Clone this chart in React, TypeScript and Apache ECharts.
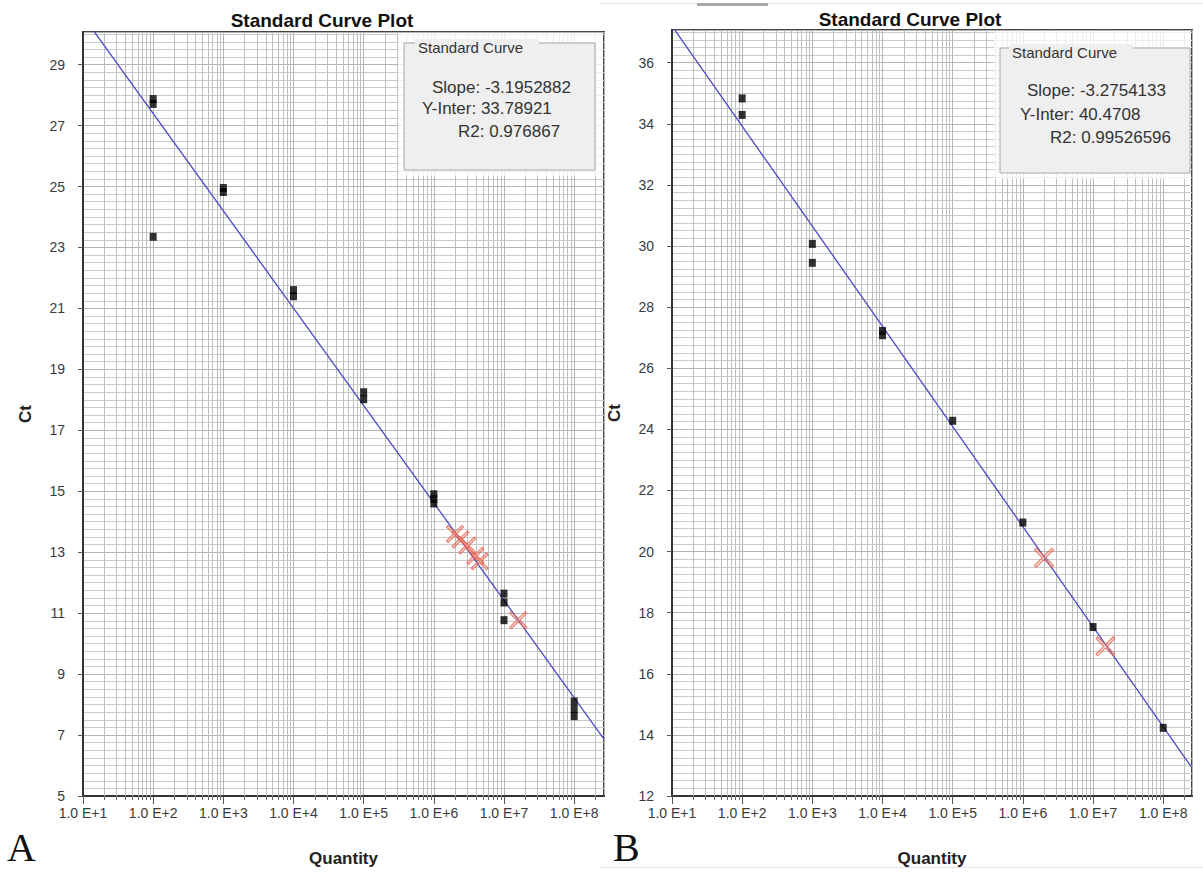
import React, { useEffect, useRef } from "react";
import * as echarts from "echarts";

// ---------- Data ----------
const decades = [1e1, 1e2, 1e3, 1e4, 1e5, 1e6, 1e7, 1e8];
const minorMultipliers = [2, 3, 4, 5, 6, 7, 8, 9];

// Panel A
const xMaxA = 2.66e8;
const yMinA = 5;
const yMaxA = 30.07;
const standardsA: [number, number][] = [
  [1e2, 27.87], [1e2, 27.71], [1e2, 23.35],
  [1e3, 24.95], [1e3, 24.82],
  [1e4, 21.6], [1e4, 21.4],
  [1e5, 18.25], [1e5, 18.02],
  [1e6, 14.9], [1e6, 14.75], [1e6, 14.6],
  [1e7, 11.64], [1e7, 11.35], [1e7, 10.77],
  [1e8, 8.1], [1e8, 7.85], [1e8, 7.62],
];
const unknownsA: [number, number][] = [
  [2.0e6, 13.6], [2.4e6, 13.42], [3.0e6, 13.22], [3.9e6, 12.88], [4.5e6, 12.7],
  [1.6e7, 10.77],
];
const fitA: [number, number][] = [[10, 30.59], [2.66e8, 6.87]];
const legendA = ["Slope: -3.1952882", "Y-Inter: 33.78921", "R2: 0.976867"];

// Panel B
const xMaxB = 2.57e8;
const yMinB = 12;
const yMaxB = 37.07;
const standardsB: [number, number][] = [
  [1e2, 34.83], [1e2, 34.29],
  [1e3, 30.07], [1e3, 29.45],
  [1e4, 27.22], [1e4, 27.08],
  [1e5, 24.28],
  [1e6, 20.95],
  [1e7, 17.53],
  [1e8, 14.23],
];
const unknownsB: [number, number][] = [[2.0e6, 19.8], [1.5e7, 16.9]];
const fitB: [number, number][] = [[10, 37.2], [2.57e8, 12.92]];
const legendB = ["Slope: -3.2754133", "Y-Inter: 40.4708", "R2: 0.99526596"];

const FONT = "'Liberation Sans', Arial, sans-serif";
const X_PATH =
  "path://M0,1.5L1.5,0L8,6.5L14.5,0L16,1.5L9.5,8L16,14.5L14.5,16L8,9.5L1.5,16L0,14.5L6.5,8Z";

function minorValues(max: number) {
  const out: number[][] = [];
  decades.forEach((d) =>
    minorMultipliers.forEach((m) => {
      if (m * d < max) out.push([m * d]);
    })
  );
  return out;
}

function xAxisCfg(gridIndex: number, max: number) {
  return {
    type: "log",
    logBase: 10,
    gridIndex,
    min: 10,
    max,
    name: "Quantity",
    nameLocation: "middle",
    nameGap: 54,
    nameTextStyle: { fontFamily: FONT, fontWeight: "bold", fontSize: 17, color: "#222" },
    axisLine: { show: true, lineStyle: { color: "#333", width: 2 } },
    axisTick: { show: true, length: 8, lineStyle: { color: "#555" } },
    axisLabel: {
      formatter: (v: number) => "1.0 E+" + Math.round(Math.log10(v)),
      fontFamily: FONT,
      fontSize: 14,
      color: "#3a3a3a",
      margin: 10,
      showMaxLabel: false,
    },
    splitLine: { show: true, lineStyle: { color: "#b4b4b4", width: 1 } },
  };
}

function yAxisCfg(gridIndex: number, min: number, max: number) {
  return {
    type: "value",
    gridIndex,
    min,
    max,
    interval: 2,
    name: "Ct",
    nameLocation: "middle",
    nameGap: 49,
    nameRotate: 90,
    nameTextStyle: { fontFamily: FONT, fontWeight: "bold", fontSize: 17, color: "#222" },
    axisLine: { show: true, lineStyle: { color: "#333", width: 2 } },
    axisTick: { show: true, length: 5, lineStyle: { color: "#555" } },
    axisLabel: {
      fontFamily: FONT,
      fontSize: 14,
      color: "#3a3a3a",
      margin: 18,
      showMaxLabel: false,
    },
    splitLine: { show: true, lineStyle: { color: "#b4b4b4", width: 1 } },
    minorTick: { show: false, splitNumber: 8 },
    minorSplitLine: { show: true, lineStyle: { color: "#cacaca", width: 1 } },
  };
}

function panelSeries(
  idx: number,
  max: number,
  yMin: number,
  standards: [number, number][],
  unknowns: [number, number][],
  fit: [number, number][],
  xSize: number
) {
  return [
    {
      type: "custom",
      xAxisIndex: idx,
      yAxisIndex: idx,
      silent: true,
      z: 1,
      data: minorValues(max).map((v) => [v[0], yMin]),
      encode: { x: 0, y: 1 },
      renderItem: (params: any, api: any) => {
        const cs = params.coordSys;
        const x = Math.round(api.coord([api.value(0), api.value(1)])[0]) + 0.5;
        const bottom = cs.y + cs.height;
        return {
          type: "group",
          children: [
            {
              type: "line",
              shape: { x1: x, y1: cs.y, x2: x, y2: bottom },
              style: { stroke: "#bebebe", lineWidth: 1 },
            },
            {
              type: "line",
              shape: { x1: x, y1: bottom, x2: x, y2: bottom + 4 },
              style: { stroke: "#666", lineWidth: 1 },
            },
          ],
        };
      },
    },
    {
      type: "line",
      xAxisIndex: idx,
      yAxisIndex: idx,
      data: fit,
      symbol: "none",
      clip: true,
      silent: true,
      z: 3,
      lineStyle: { color: "#4a4ac4", width: 1.3 },
    },
    {
      type: "scatter",
      xAxisIndex: idx,
      yAxisIndex: idx,
      data: standards,
      symbol: "rect",
      symbolSize: [7, 8],
      z: 4,
      itemStyle: { color: "#000" },
    },
    {
      type: "scatter",
      xAxisIndex: idx,
      yAxisIndex: idx,
      data: unknowns,
      symbol: X_PATH,
      symbolSize: xSize,
      z: 5,
      itemStyle: { color: "rgba(245,150,130,0.4)", borderColor: "#e2604e", borderWidth: 1.1 },
    },
  ];
}

function legendGraphics(
  boxX: number,
  boxY: number,
  boxW: number,
  boxH: number,
  titleX: number,
  titleY: number,
  lines: string[],
  lineXs: number[],
  lineYs: number[],
  overlay: [number, number, number, number]
) {
  const els: any[] = [
    {
      type: "rect",
      z: 100,
      shape: { x: overlay[0], y: overlay[1], width: overlay[2], height: overlay[3] },
      style: { fill: "rgba(255,255,255,0.72)" },
    },
    {
      type: "rect",
      z: 101,
      shape: { x: boxX, y: boxY, width: boxW, height: boxH },
      style: { fill: "#efefef", stroke: "#a8a8a8", lineWidth: 1 },
    },
    {
      type: "rect",
      z: 102,
      shape: { x: titleX - 3, y: titleY - 8, width: 124, height: 16 },
      style: { fill: "#efefef" },
    },
    {
      type: "text",
      z: 103,
      x: titleX,
      y: titleY,
      style: {
        text: "Standard Curve",
        fill: "#333",
        font: `15px ${FONT}`,
        textAlign: "left",
        textVerticalAlign: "middle",
      },
    },
  ];
  lines.forEach((t, i) =>
    els.push({
      type: "text",
      z: 103,
      x: lineXs[i],
      y: lineYs[i],
      style: {
        text: t,
        fill: "#333",
        font: `17px ${FONT}`,
        textAlign: "left",
        textVerticalAlign: "middle",
      },
    })
  );
  return els;
}

export default function App() {
  const ref = useRef<HTMLDivElement>(null);

  useEffect(() => {
    if (!ref.current) return;
    const chart = echarts.init(ref.current, undefined, { renderer: "svg" });
    const option: any = {
      animation: false,
      backgroundColor: "#fff",
      grid: [
        {
          left: 83,
          top: 32,
          width: 521,
          height: 774,
          show: true,
          backgroundColor: "#fff",
          borderColor: "#444",
          borderWidth: 2,
        },
        {
          left: 672,
          top: 30,
          width: 520,
          height: 774,
          show: true,
          backgroundColor: "#fff",
          borderColor: "#444",
          borderWidth: 2,
        },
      ],
      xAxis: [xAxisCfg(0, xMaxA), xAxisCfg(1, xMaxB)],
      yAxis: [yAxisCfg(0, yMinA, yMaxA), yAxisCfg(1, yMinB, yMaxB)],
      series: [
        ...panelSeries(0, xMaxA, yMinA, standardsA, unknownsA, fitA, 17),
        ...panelSeries(1, xMaxB, yMinB, standardsB, unknownsB, fitB, 19),
      ],
      graphic: {
        elements: [
          {
            type: "rect",
            z: 90,
            shape: { x: 600, y: 3, width: 603, height: 1 },
            style: { fill: "#e6e6e6" },
          },
          {
            type: "rect",
            z: 91,
            shape: { x: 697, y: 3, width: 71, height: 3 },
            style: { fill: "#a8a8a8" },
          },
          {
            type: "rect",
            z: 90,
            shape: { x: 600, y: 867, width: 603, height: 1 },
            style: { fill: "#e2e2e2" },
          },
          {
            type: "text",
            z: 100,
            x: 322,
            y: 20,
            style: {
              text: "Standard Curve Plot",
              fill: "#111",
              font: `bold 19px ${FONT}`,
              textAlign: "center",
              textVerticalAlign: "middle",
            },
          },
          {
            type: "text",
            z: 100,
            x: 910,
            y: 19,
            style: {
              text: "Standard Curve Plot",
              fill: "#111",
              font: `bold 19px ${FONT}`,
              textAlign: "center",
              textVerticalAlign: "middle",
            },
          },
          {
            type: "text",
            z: 100,
            x: 7,
            y: 847,
            style: {
              text: "A",
              fill: "#111",
              font: `40px 'Liberation Serif', 'DejaVu Serif', serif`,
              textAlign: "left",
              textVerticalAlign: "middle",
            },
          },
          {
            type: "text",
            z: 100,
            x: 613,
            y: 847,
            style: {
              text: "B",
              fill: "#111",
              font: `40px 'Liberation Serif', 'DejaVu Serif', serif`,
              textAlign: "left",
              textVerticalAlign: "middle",
            },
          },
          ...legendGraphics(
            404, 43, 191, 127, 418, 47, legendA,
            [432, 422, 458], [87, 108, 131],
            [398, 33, 205, 143]
          ),
          ...legendGraphics(
            1000, 48, 190, 125, 1012, 52, legendB,
            [1027, 1020, 1050], [90, 114, 137],
            [994, 31, 197, 148]
          ),
        ],
      },
    };
    chart.setOption(option);
    return () => chart.dispose();
  }, []);

  return (
    <div
      ref={ref}
      style={{ position: "absolute", left: 0, top: 0, width: 1203, height: 872, background: "#fff" }}
    />
  );
}
